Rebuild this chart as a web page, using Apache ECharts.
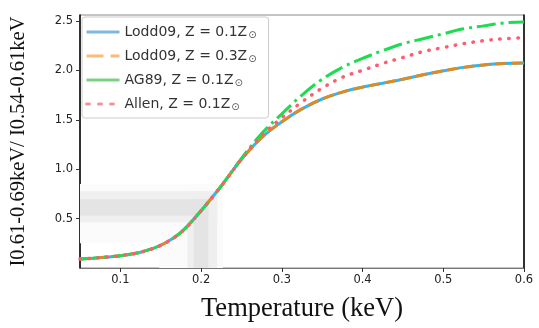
<!DOCTYPE html>
<html>
<head>
<meta charset="utf-8">
<script src="https://cdn.jsdelivr.net/npm/echarts@6/dist/echarts.min.js"></script>
<style>html,body{margin:0;padding:0;background:#fff}#c{width:539px;height:328px}</style>
</head>
<body>
<div id="c"></div>
<script>
var temps = [0.05, 0.075, 0.1, 0.125, 0.15, 0.175, 0.2, 0.225, 0.25, 0.275, 0.3, 0.325, 0.35, 0.375, 0.4, 0.425, 0.45, 0.475, 0.5, 0.525, 0.55, 0.575, 0.6];
var lodd01 = [0.09, 0.105, 0.125, 0.16, 0.23, 0.36, 0.58, 0.83, 1.10, 1.32, 1.48, 1.61, 1.71, 1.78, 1.83, 1.87, 1.91, 1.955, 1.995, 2.03, 2.055, 2.07, 2.075];
var lodd03 = [0.09, 0.105, 0.125, 0.16, 0.23, 0.36, 0.58, 0.83, 1.10, 1.32, 1.48, 1.61, 1.71, 1.78, 1.83, 1.87, 1.91, 1.955, 1.995, 2.03, 2.055, 2.07, 2.075];
var ag89   = [0.09, 0.105, 0.125, 0.16, 0.23, 0.36, 0.58, 0.83, 1.11, 1.36, 1.56, 1.75, 1.91, 2.03, 2.12, 2.2, 2.27, 2.32, 2.37, 2.42, 2.45, 2.48, 2.49];
var allen  = [0.09, 0.105, 0.125, 0.16, 0.23, 0.36, 0.58, 0.83, 1.10, 1.34, 1.52, 1.68, 1.82, 1.93, 2.0, 2.07, 2.13, 2.19, 2.23, 2.27, 2.30, 2.32, 2.33];
var seriesNames = ['Lodd09, Z = 0.1Z', 'Lodd09, Z = 0.3Z', 'AG89, Z = 0.1Z', 'Allen, Z = 0.1Z'];
var xTicks = [0.1, 0.2, 0.3, 0.4, 0.5, 0.6];
var yTicks = [0.5, 1.0, 1.5, 2.0, 2.5];
// shaded bands: [xmin, xmax, ymin, ymax]
var faintBands = [[0.148, 0.227, 0, 0.85], [0.05, 0.227, 0.25, 0.85]];
var lightBands = [[0.05, 0.22, 0.463, 0.777], [0.183, 0.22, 0, 0.777]];
var darkBands  = [[0.05, 0.209, 0.53, 0.695], [0.191, 0.209, 0, 0.695]];

function pairs(xs, ys) { return xs.map(function (x, i) { return [x, ys[i]]; }); }
function areas(bands, color) {
  return bands.map(function (b) {
    return [{ xAxis: b[0], yAxis: b[2], itemStyle: { color: color } }, { xAxis: b[1], yAxis: b[3] }];
  });
}

var chart = echarts.init(document.getElementById('c'), null, { renderer: 'canvas' });
var tickFont = { fontFamily: 'DejaVu Sans', fontSize: 11.5, color: '#222' };
var noIcon = { opacity: 0, borderWidth: 0 };
chart.setOption({
  animation: false,
  grid: { left: 78, right: 15, top: 15, bottom: 55, show: true, borderColor: '#888', borderWidth: 1 },
  xAxis: {
    type: 'value', min: 0.05, max: 0.6,
    name: 'Temperature (keV)', nameLocation: 'middle', nameGap: 28,
    nameTextStyle: { fontFamily: 'Liberation Serif', fontSize: 26.5, color: '#111' },
    axisLine: { show: true, onZero: false, lineStyle: { color: '#777', width: 1.2 } },
    axisTick: { show: true, length: 4, customValues: xTicks, lineStyle: { color: '#333' } },
    axisLabel: Object.assign({ customValues: xTicks, margin: 6, formatter: function (v) { return v.toFixed(1); } }, tickFont),
    splitLine: { show: false }
  },
  yAxis: [{
    type: 'value', min: 0, max: 2.56,
    name: 'I0.61-0.69keV/ I0.54-0.61keV', nameLocation: 'middle', nameGap: 51,
    nameTextStyle: { fontFamily: 'Liberation Serif', fontSize: 20.5, color: '#111' },
    axisLine: { show: true, onZero: false, lineStyle: { color: '#000', width: 1.5 } },
    axisTick: { show: true, length: 4, customValues: yTicks, lineStyle: { color: '#333' } },
    axisLabel: Object.assign({ customValues: yTicks, margin: 7, formatter: function (v) { return v.toFixed(1); } }, tickFont),
    splitLine: { show: false }
  }, {
    type: 'value', min: 0, max: 2.56, position: 'right',
    axisLine: { show: true, lineStyle: { color: '#000', width: 1.5 } },
    axisTick: { show: false }, axisLabel: { show: false }, splitLine: { show: false }
  }],
  legend: {
    left: 82, top: 17, orient: 'vertical',
    backgroundColor: '#fff', borderColor: '#ccc', borderWidth: 1, borderRadius: 3,
    padding: [8, 12, 6, 3], itemGap: 9, itemWidth: 33, itemHeight: 14,
    data: [
      { name: seriesNames[0], itemStyle: noIcon, lineStyle: { color: '#7db8df', width: 3, type: 'solid' } },
      { name: seriesNames[1], itemStyle: noIcon, lineStyle: { color: '#ffbb77', width: 3, type: [17, 7] } },
      { name: seriesNames[2], itemStyle: noIcon, lineStyle: { color: '#7ad383', width: 3, type: 'solid' } },
      { name: seriesNames[3], itemStyle: noIcon, lineStyle: { color: '#f6949c', width: 3, type: [3, 9] } }
    ],
    formatter: function (n) { return n + '{s|⊙}'; },
    textStyle: {
      fontFamily: 'DejaVu Sans', fontSize: 14, color: '#333',
      rich: { s: { fontFamily: 'DejaVu Sans', fontSize: 10, color: '#555', verticalAlign: 'bottom', padding: [6, 0, 0, 1] } }
    }
  },
  series: [
    {
      type: 'line', name: 'bands', data: [], z: 1, silent: true,
      markArea: { silent: true, data: areas(faintBands, '#fbfbfb').concat(areas(lightBands, '#efefef')).concat(areas(darkBands, '#e4e4e4')) }
    },
    { type: 'line', name: seriesNames[0], data: pairs(temps, lodd01), smooth: 0.35, symbol: 'none', z: 3,
      itemStyle: { color: '#33b5f0' }, lineStyle: { color: '#33b5f0', width: 3 } },
    { type: 'line', name: seriesNames[1], data: pairs(temps, lodd03), smooth: 0.35, symbol: 'none', z: 4,
      itemStyle: { color: '#e08b1e' }, lineStyle: { color: '#e08b1e', width: 3, type: [11, 5] } },
    { type: 'line', name: seriesNames[2], data: pairs(temps, ag89), smooth: 0.35, symbol: 'none', z: 5,
      itemStyle: { color: '#1edc50' }, lineStyle: { color: '#1edc50', width: 3, type: [19, 5, 3, 5] } },
    { type: 'line', name: seriesNames[3], data: pairs(temps, allen), smooth: 0.35, symbol: 'none', z: 6,
      itemStyle: { color: '#ff5c70' }, lineStyle: { color: '#ff5c70', width: 3.5, cap: 'round', type: [0.5, 8.5] } }
  ]
});
</script>
</body>
</html>
